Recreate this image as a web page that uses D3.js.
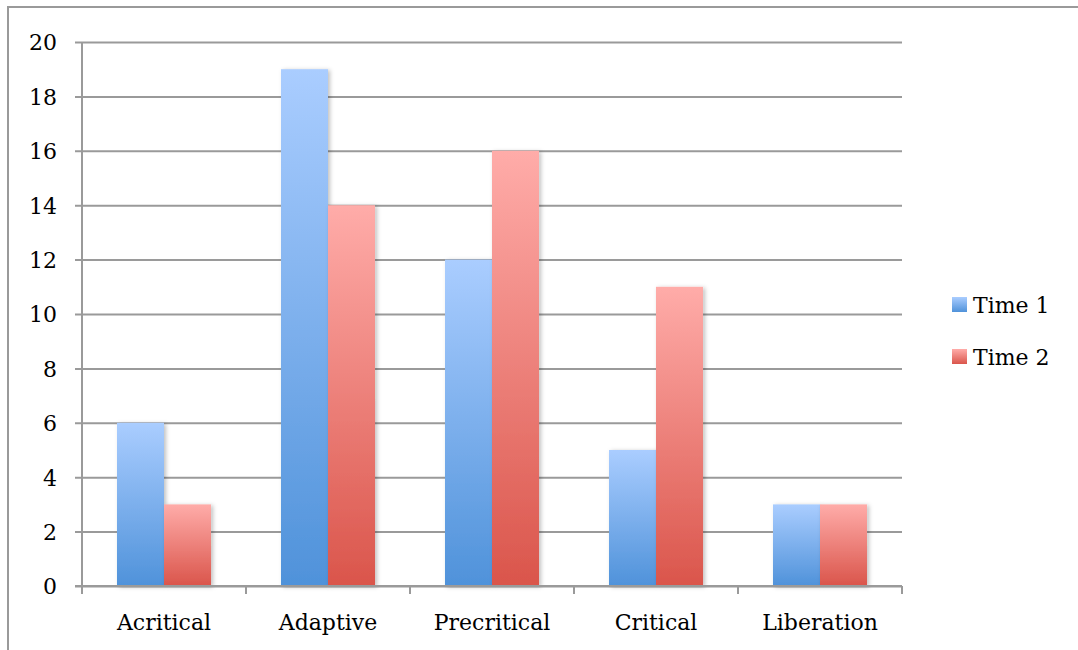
<!DOCTYPE html>
<html>
<head>
<meta charset="utf-8">
<script src="https://cdn.jsdelivr.net/npm/d3@7"></script>
<style>
  html, body { margin: 0; padding: 0; background: #fff; }
  svg { display: block; }
  text { font-family: "DejaVu Serif", "Liberation Serif", serif; fill: #000; }
</style>
</head>
<body>
<svg id="chart" width="1078" height="650"></svg>
<script>
// Stages of critical consciousness, counted at two points in time
const categories = ["Acritical", "Adaptive", "Precritical", "Critical", "Liberation"];
const seriesNames = ["Time 1", "Time 2"];
const time1 = [6, 19, 12, 5, 3];
const time2 = [3, 14, 16, 11, 3];
const yTicks = [0, 2, 4, 6, 8, 10, 12, 14, 16, 18, 20];

const seriesValues = [time1, time2];
const gradients = [
  { id: "gradBlue", top: "#aacdff", bottom: "#4f92da" },
  { id: "gradRed", top: "#ffaca9", bottom: "#da554b" }
];

const svg = d3.select("#chart");
const defs = svg.append("defs");

gradients.forEach(g => {
  const lg = defs.append("linearGradient")
    .attr("id", g.id).attr("x1", 0).attr("y1", 0).attr("x2", 0).attr("y2", 1);
  lg.append("stop").attr("offset", "0%").attr("stop-color", g.top);
  lg.append("stop").attr("offset", "100%").attr("stop-color", g.bottom);
});

const shadow = defs.append("filter").attr("id", "barShadow")
  .attr("x", "-20%").attr("y", "-5%").attr("width", "150%").attr("height", "115%");
shadow.append("feDropShadow")
  .attr("dx", 2).attr("dy", 1).attr("stdDeviation", 2)
  .attr("flood-color", "#000").attr("flood-opacity", 0.25);

// Outer frame (runs off the right and bottom edges)
svg.append("rect")
  .attr("x", 8).attr("y", 7).attr("width", 1100).attr("height", 700)
  .attr("fill", "none").attr("stroke", "#9a9a9a").attr("stroke-width", 2);

const plot = { left: 82, right: 902, top: 42, bottom: 586 };

const x0 = d3.scaleBand().domain(categories)
  .range([plot.left, plot.right]).paddingInner(0).paddingOuter(0);
const groupPad = x0.bandwidth() * 0.2134;
const x1 = d3.scaleBand().domain(seriesNames)
  .range([groupPad, x0.bandwidth() - groupPad]);
const y = d3.scaleLinear().domain([0, 20]).range([plot.bottom, plot.top]);

const gridColor = "#9a9a9a";

// Horizontal gridlines with short ticks to the left
const yAxis = d3.axisLeft(y).tickValues(yTicks)
  .tickSize(-(plot.right - plot.left + 7)).tickSizeOuter(0).tickPadding(18);
const gy = svg.append("g").attr("transform", `translate(${plot.left - 7},0)`);
gy.call(yAxis);
gy.select(".domain").remove();
gy.selectAll(".tick line")
  .attr("x1", 0).attr("x2", plot.right - plot.left + 7)
  .attr("stroke", gridColor).attr("stroke-width", 2);
gy.selectAll(".tick text")
  .attr("x", -18).attr("dy", "0.36em")
  .style("font-size", "22px").style("font-family", '"DejaVu Serif", serif');

// Vertical value axis line
svg.append("line")
  .attr("x1", plot.left).attr("x2", plot.left)
  .attr("y1", plot.top).attr("y2", plot.bottom)
  .attr("stroke", gridColor).attr("stroke-width", 2);

// Bars
const groups = svg.append("g").selectAll("g")
  .data(categories).join("g")
  .attr("transform", d => `translate(${x0(d)},0)`);

groups.selectAll("rect")
  .data((d, i) => seriesNames.map((s, k) => ({ s, k, v: seriesValues[k][i] })))
  .join("rect")
  .attr("x", d => x1(d.s))
  .attr("width", x1.bandwidth())
  .attr("y", d => y(d.v))
  .attr("height", d => y(0) - y(d.v))
  .attr("fill", d => `url(#${gradients[d.k].id})`)
  .attr("filter", "url(#barShadow)");

// Category axis
const xAxis = d3.axisBottom(x0).tickSize(0).tickSizeOuter(0).tickPadding(28);
const gx = svg.append("g").attr("transform", `translate(0,${plot.bottom})`);
gx.call(xAxis);
gx.select(".domain").remove();
gx.selectAll(".tick text")
  .style("font-size", "22px").style("font-family", '"DejaVu Serif", serif');

svg.append("line")
  .attr("x1", plot.left - 7).attr("x2", plot.right)
  .attr("y1", plot.bottom).attr("y2", plot.bottom)
  .attr("stroke", gridColor).attr("stroke-width", 2);

const boundaries = d3.range(categories.length + 1)
  .map(i => i < categories.length ? x0(categories[i]) : plot.right);
svg.append("g").selectAll("line")
  .data(boundaries).join("line")
  .attr("x1", d => d).attr("x2", d => d)
  .attr("y1", plot.bottom).attr("y2", plot.bottom + 8)
  .attr("stroke", gridColor).attr("stroke-width", 2);

// Legend
const legend = svg.append("g").attr("transform", "translate(952,297)");
const items = legend.selectAll("g").data(seriesNames).join("g")
  .attr("transform", (d, i) => `translate(0,${i * 52})`);
items.append("rect")
  .attr("width", 15).attr("height", 15)
  .attr("fill", (d, i) => `url(#${gradients[i].id})`);
items.append("text")
  .attr("x", 21).attr("y", 16)
  .style("font-size", "22px")
  .text(d => d);
</script>
</body>
</html>
